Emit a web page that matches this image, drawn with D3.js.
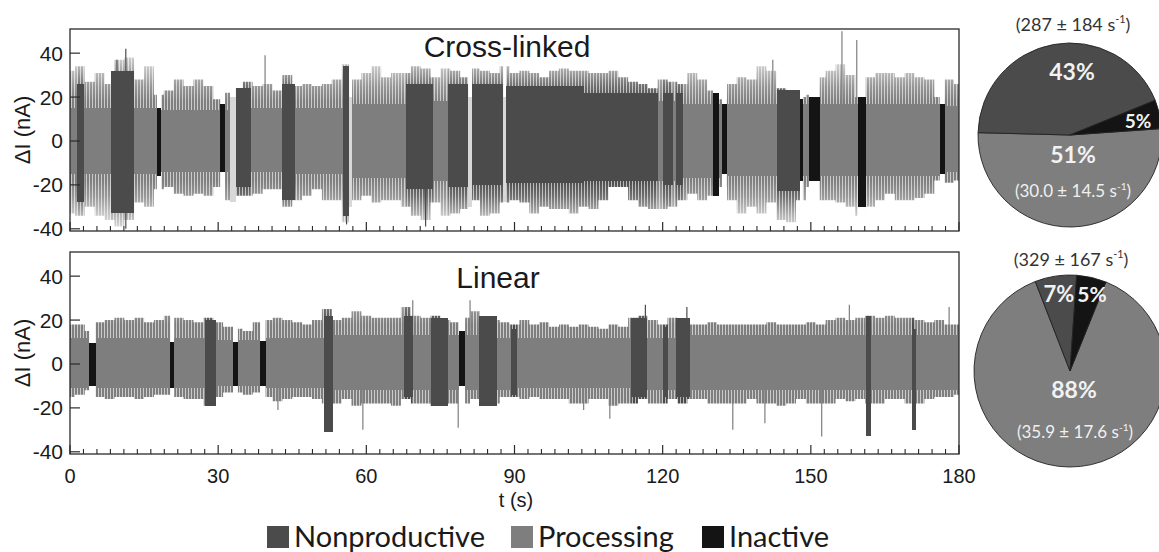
<!DOCTYPE html>
<html>
<head>
<meta charset="utf-8">
<script src="https://cdn.jsdelivr.net/npm/d3@7"></script>
<style>
  body { margin: 0; background: #fff; }
  svg { display: block; }
  .axis-text { font-family: "Liberation Sans", Arial, sans-serif; fill: #1a1a1a; }
  .pie-text { font-family: Lato, "Open Sans", sans-serif; }
</style>
</head>
<body>
<svg id="chart" width="1159" height="552"></svg>
<script>
// ---- data ----
// segments: [start s, end s, state, solid band top nA, solid band bottom nA]
// P = processing, N = nonproductive, I = inactive, G = unassigned gap
const crossSegments = [
  [0, 1.5, "P", 15, -15], [1.5, 2.9, "N", 26, -28], [2.9, 8.3, "P", 15, -15],
  [8.3, 13.0, "N", 32, -33], [13.0, 17.6, "P", 15, -15], [17.6, 18.5, "I", 15, -16],
  [18.5, 30.4, "P", 14, -14], [30.4, 31.4, "I", 17, -14], [31.4, 32.4, "P", 14, -14],
  [32.4, 33.6, "G", 20, -28], [33.6, 36.6, "N", 24, -21], [36.6, 42.9, "P", 15, -14],
  [42.9, 45.5, "N", 26, -27], [45.5, 55.2, "P", 15, -15], [55.2, 56.5, "N", 34, -34],
  [56.5, 57.1, "G", 20, -30], [57.1, 68.0, "P", 17, -17], [68.0, 73.5, "N", 26, -22],
  [73.5, 76.5, "P", 18, -18], [76.5, 80.6, "N", 26, -21], [80.6, 81.4, "G", 20, -30],
  [81.4, 87.7, "N", 26, -20], [87.7, 88.3, "G", 20, -28], [88.3, 104, "N", 25, -19],
  [104, 119, "N", 22, -18], [119, 120, "P", 18, -18], [120, 122, "N", 22, -20],
  [122, 122.7, "P", 18, -18], [122.7, 124.1, "N", 22, -20], [124.1, 130.2, "P", 17, -17],
  [130.2, 131.4, "I", 22, -25], [131.4, 132, "P", 17, -17], [132, 133, "I", 17, -15],
  [133, 143.1, "P", 17, -16], [143.1, 147.8, "N", 23, -23], [147.8, 148.4, "I", 19, -18],
  [148.4, 149.6, "P", 17, -16], [149.6, 151.8, "I", 20, -18], [151.8, 159.5, "P", 17, -16],
  [159.5, 161.1, "I", 20, -30], [161.1, 176.1, "P", 17, -16], [176.1, 177.1, "I", 17, -15],
  [177.1, 180, "P", 16, -14]
];
const linearSegments = [
  [0, 3.9, "P", 12, -11], [3.9, 5.2, "I", 9.5, -10], [5.2, 20.3, "P", 12, -11],
  [20.3, 21.1, "I", 10, -11], [21.1, 27.3, "P", 12, -11], [27.3, 29.5, "N", 20, -19],
  [29.5, 33, "P", 11, -10], [33, 34, "I", 10, -10], [34, 38.5, "P", 11, -10],
  [38.5, 39.6, "I", 10.5, -10], [39.6, 51.4, "P", 12, -11], [51.4, 53.2, "N", 22, -31],
  [53.2, 67.6, "P", 13, -12], [67.6, 69.4, "N", 22, -15], [69.4, 73.1, "P", 13, -12],
  [73.1, 76.5, "N", 21, -19], [76.5, 78.7, "P", 13, -12], [78.7, 80.0, "I", 15, -10],
  [80.0, 82.8, "P", 13, -12], [82.8, 86.4, "N", 22, -19], [86.4, 89.3, "P", 12, -12],
  [89.3, 90.5, "N", 16, -14], [90.5, 113.6, "P", 12, -11], [113.6, 116.8, "N", 21, -15],
  [116.8, 120, "P", 12, -12], [120, 121.1, "N", 17, -15], [121.1, 122.7, "P", 12, -12],
  [122.7, 125.5, "N", 21, -15], [125.5, 161.1, "P", 13, -12], [161.1, 162.1, "N", 22, -33],
  [162.1, 170.4, "P", 13, -12], [170.4, 171.2, "N", 16, -30], [171.2, 180, "P", 13, -12]
];

// outer reach of the noise, one value every 2 s from 0 to 180 s (nA)
const binStep = 2;
const crossHigh = [
  32, 34, 27, 31, 26, 37, 38, 28, 34, 21,
  23, 28, 25, 28, 25, 19, 22, 24, 27, 25,
  26, 23, 30, 25, 26, 25, 26, 28, 35, 28,
  31, 34, 29, 31, 31, 34, 33, 29, 33, 32,
  29, 33, 32, 31, 34, 31, 32, 31, 29, 32,
  33, 32, 32, 31, 31, 32, 29, 27, 26, 24,
  28, 27, 26, 31, 28, 23, 19, 26, 29, 28,
  34, 32, 24, 23, 20, 21, 29, 32, 35, 30,
  20, 29, 31, 31, 29, 31, 29, 28, 20, 28,
  26
];
const crossLow = [
  -33, -34, -30, -34, -36, -39, -36, -28, -30, -22,
  -21, -24, -25, -24, -25, -21, -27, -25, -25, -24,
  -22, -22, -30, -27, -25, -22, -27, -27, -37, -27,
  -25, -28, -27, -27, -30, -34, -36, -28, -34, -33,
  -31, -27, -34, -33, -28, -27, -28, -33, -30, -31,
  -31, -33, -30, -31, -27, -21, -21, -27, -30, -31,
  -31, -30, -27, -24, -27, -25, -21, -27, -33, -30,
  -33, -28, -36, -37, -27, -21, -27, -27, -28, -30,
  -34, -30, -27, -24, -27, -27, -26, -24, -18, -19,
  -18
];
const linearHigh = [
  18, 18, 15, 19, 20, 21, 20, 21, 19, 20,
  22, 21, 20, 19, 21, 19, 17, 16, 15, 19,
  20, 21, 20, 19, 18, 20, 25, 20, 21, 24,
  22, 21, 21, 21, 26, 22, 21, 22, 20, 19,
  21, 24, 21, 20, 19, 18, 20, 18, 19, 17,
  18, 17, 18, 17, 16, 18, 17, 21, 22, 20,
  18, 21, 20, 18, 18, 19, 18, 18, 18, 18,
  18, 19, 18, 18, 18, 19, 18, 20, 21, 20,
  21, 22, 21, 22, 21, 21, 20, 19, 20, 18,
  18
];
const linearLow = [
  -15, -14, -12, -15, -16, -15, -15, -16, -15, -14,
  -14, -15, -16, -16, -19, -15, -13, -13, -14, -13,
  -15, -17, -16, -15, -15, -16, -18, -18, -16, -19,
  -18, -18, -18, -19, -16, -18, -18, -19, -18, -18,
  -18, -16, -19, -18, -15, -15, -16, -15, -16, -16,
  -16, -18, -18, -16, -16, -19, -18, -18, -16, -18,
  -18, -16, -18, -16, -16, -18, -18, -18, -18, -16,
  -18, -18, -19, -18, -16, -18, -18, -18, -16, -17,
  -16, -18, -18, -16, -16, -18, -18, -16, -15, -15,
  -14
];

// isolated spikes: [time s, tip nA]
const crossSpikes = [
  [9.5, 37], [11.3, 42], [39.5, 39], [142.3, 37], [156.3, 50], [159.3, 46],
  [11.3, -40], [56, -38], [72, -39]
];
const linearSpikes = [
  [42.1, -21], [59.3, -30], [78.6, -29], [104, -21], [109.3, -25], [134.2, -30],
  [140.7, -27], [152.2, -33], [69.4, 29], [81, 29], [116.5, 27], [124.9, 26],
  [157.8, 27], [178, 26]
];

// pie charts
const crossPie = [
  {state: "P", value: 51}, {state: "N", value: 43}, {state: "I", value: 5}
];
const linearPie = [
  {state: "P", value: 88}, {state: "N", value: 7}, {state: "I", value: 5}
];

const xMajorTicks = [0, 30, 60, 90, 120, 150, 180];
const yTicks = [40, 20, 0, -20, -40];
const legendItems = [
  {state: "N", label: "Nonproductive"},
  {state: "P", label: "Processing"},
  {state: "I", label: "Inactive"}
];

// ---- drawing ----
const colors = {N: "#4b4b4b", P: "#7e7e7e", I: "#141414", G: "#d8d8d8"};

const svg = d3.select("#chart");
const defs = svg.append("defs");

const x = d3.scaleLinear().domain([0, 180]).range([70, 959]);

// hatched fill for the sparse noise fringe
["N", "P"].forEach(s => {
  const pat = defs.append("pattern")
    .attr("id", `fringe-${s}`)
    .attr("patternUnits", "userSpaceOnUse")
    .attr("width", 3)
    .attr("height", 4);
  pat.append("rect")
    .attr("width", 2).attr("height", 4)
    .attr("fill", colors[s]);
  pat.append("rect")
    .attr("x", 2).attr("width", 1).attr("height", 4)
    .attr("fill", colors[s]).attr("opacity", 0.4);
});

const panels = [
  {key: "cross", top: 29, bottom: 231, segments: crossSegments, high: crossHigh,
   low: crossLow, spikes: crossSpikes, title: "Cross-linked", titleX: 507, titleY: 57},
  {key: "linear", top: 252, bottom: 454, segments: linearSegments, high: linearHigh,
   low: linearLow, spikes: linearSpikes, title: "Linear", titleX: 498, titleY: 288}
];

panels.forEach((p, pi) => {
  const y = d3.scaleLinear().domain([-41, 51]).range([p.bottom, p.top]);
  const g = svg.append("g");

  const stateAt = t => {
    const seg = p.segments.find(d => t >= d[0] && t < d[1]) || p.segments[p.segments.length - 1];
    return seg;
  };

  // fringe gets thinner away from the baseline
  const grad = defs.append("linearGradient")
    .attr("id", `fade-${p.key}`)
    .attr("gradientUnits", "userSpaceOnUse")
    .attr("x1", 0).attr("x2", 0)
    .attr("y1", y(40)).attr("y2", y(-40));
  [[0, 0.2], [0.0875, 0.45], [0.1875, 0.8], [0.275, 1], [0.725, 1], [0.8125, 0.8], [0.9125, 0.45], [1, 0.2]]
    .forEach(([o, a]) => {
      grad.append("stop").attr("offset", o).attr("stop-color", "#fff").attr("stop-opacity", a);
    });
  const mask = defs.append("mask")
    .attr("id", `mask-${p.key}`)
    .attr("maskUnits", "userSpaceOnUse")
    .attr("x", 70).attr("y", p.top)
    .attr("width", 889).attr("height", p.bottom - p.top);
  mask.append("rect")
    .attr("x", 70).attr("y", p.top)
    .attr("width", 889).attr("height", p.bottom - p.top)
    .attr("fill", `url(#fade-${p.key})`);

  const fringe = g.append("g").attr("mask", `url(#mask-${p.key})`);

  // clip per state: union of that state's segments
  ["N", "P"].forEach(s => {
    const cp = defs.append("clipPath").attr("id", `clip-${p.key}-${s}`);
    cp.selectAll("rect")
      .data(p.segments.filter(d => d[2] === s))
      .join("rect")
        .attr("x", d => x(d[0]))
        .attr("width", d => x(d[1]) - x(d[0]))
        .attr("y", p.top)
        .attr("height", p.bottom - p.top);

    const area = d3.area()
      .curve(d3.curveStep)
      .x((d, i) => x(i * binStep))
      .y0((d, i) => y(p.low[i]))
      .y1(d => y(d));

    fringe.append("path")
      .datum(p.high)
      .attr("d", area)
      .attr("fill", `url(#fringe-${s})`)
      .attr("clip-path", `url(#clip-${p.key}-${s})`);
  });

  // spikes
  g.selectAll(".spike")
    .data(p.spikes)
    .join("line")
      .attr("class", "spike")
      .attr("x1", d => x(d[0]))
      .attr("x2", d => x(d[0]))
      .attr("y1", y(0))
      .attr("y2", d => y(d[1]))
      .attr("stroke", d => colors[stateAt(d[0])[2]])
      .attr("stroke-width", 1.2);

  // dense band of each segment
  g.selectAll(".core")
    .data(p.segments)
    .join("rect")
      .attr("class", "core")
      .attr("x", d => x(d[0]))
      .attr("width", d => x(d[1]) - x(d[0]))
      .attr("y", d => y(d[3]))
      .attr("height", d => y(d[4]) - y(d[3]))
      .attr("fill", d => colors[d[2]])
      .attr("shape-rendering", "crispEdges");

  // frame
  g.append("rect")
    .attr("x", 70).attr("y", p.top)
    .attr("width", 959 - 70).attr("height", p.bottom - p.top)
    .attr("fill", "none")
    .attr("stroke", "#2a2a2a")
    .attr("stroke-width", 1.3);

  // y ticks (inward) and labels
  g.selectAll(".ytick")
    .data(yTicks)
    .join("line")
      .attr("x1", 70).attr("x2", 80)
      .attr("y1", d => y(d)).attr("y2", d => y(d))
      .attr("stroke", "#2a2a2a").attr("stroke-width", 1.2);
  g.selectAll(".ylabel")
    .data(yTicks)
    .join("text")
      .attr("class", "axis-text")
      .attr("x", 63)
      .attr("y", d => y(d) + 7.5)
      .attr("text-anchor", "end")
      .attr("font-size", 21)
      .text(d => d);

  // x ticks: majors every 30 s, 11 minor steps between
  const minor = [];
  for (let i = 0; i < xMajorTicks.length - 1; i++) {
    const a = xMajorTicks[i], b = xMajorTicks[i + 1];
    for (let k = 1; k < 11; k++) minor.push(a + (b - a) * k / 11);
  }
  g.selectAll(".xminor")
    .data(minor)
    .join("line")
      .attr("x1", d => x(d)).attr("x2", d => x(d))
      .attr("y1", p.bottom).attr("y2", p.bottom - 5)
      .attr("stroke", "#2a2a2a").attr("stroke-width", 1.1);
  g.selectAll(".xmajor")
    .data(xMajorTicks)
    .join("line")
      .attr("x1", d => x(d)).attr("x2", d => x(d))
      .attr("y1", p.bottom).attr("y2", p.bottom - 9)
      .attr("stroke", "#2a2a2a").attr("stroke-width", 1.2);

  if (pi === 1) {
    g.selectAll(".xlabel")
      .data(xMajorTicks)
      .join("text")
        .attr("class", "axis-text")
        .attr("x", d => x(d))
        .attr("y", 483)
        .attr("text-anchor", "middle")
        .attr("font-size", 20)
        .text(d => d);
    g.append("text")
      .attr("class", "axis-text")
      .attr("x", 516).attr("y", 507)
      .attr("text-anchor", "middle")
      .attr("font-size", 20)
      .text("t (s)");
  }

  // y axis title
  const midY = (p.top + p.bottom) / 2;
  g.append("text")
    .attr("class", "axis-text")
    .attr("transform", `translate(30,${midY}) rotate(-90)`)
    .attr("text-anchor", "middle")
    .attr("font-size", 22)
    .text("ΔI (nA)");

  // panel title
  g.append("text")
    .attr("class", "axis-text")
    .attr("x", p.titleX).attr("y", p.titleY)
    .attr("text-anchor", "middle")
    .attr("font-size", 30)
    .text(p.title);
});

// ---- pies ----
function rateText(sel, parts, size) {
  sel.append("tspan").text(parts[0]);
  sel.append("tspan").attr("font-size", size * 0.6).attr("dy", -size * 0.42).text("-1");
  sel.append("tspan").attr("dy", size * 0.42).text(")");
}

function drawPie(data, cx, cy, r, startDeg) {
  const pie = d3.pie()
    .sort(null)
    .value(d => d.value)
    .startAngle(startDeg * Math.PI / 180)
    .endAngle(startDeg * Math.PI / 180 + 2 * Math.PI);
  const arc = d3.arc().innerRadius(0).outerRadius(r);
  const g = svg.append("g").attr("transform", `translate(${cx},${cy})`);
  g.selectAll("path")
    .data(pie(data))
    .join("path")
      .attr("d", arc)
      .attr("fill", d => colors[d.data.state])
      .attr("stroke", "#222")
      .attr("stroke-width", 0.9);
  return g;
}

const pie1 = drawPie(crossPie, 1070, 135, 92, 86);
const pie2 = drawPie(linearPie, 1070, 371, 96, 22);

const pieLabel = (g, txt, dx, dy, size, weight, fill) =>
  g.append("text")
    .attr("class", "pie-text")
    .attr("x", dx).attr("y", dy)
    .attr("text-anchor", "middle")
    .attr("font-size", size)
    .attr("font-weight", weight)
    .attr("fill", fill)
    .text(txt);

pieLabel(pie1, `${crossPie[1].value}%`, 2, -55, 23, 700, "#f2f2f2");
pieLabel(pie1, `${crossPie[2].value}%`, 68, -7, 19, 700, "#f2f2f2");
pieLabel(pie1, `${crossPie[0].value}%`, 3, 28, 23, 700, "#f2f2f2");
rateText(pieLabel(pie1, "", 3, 62, 17, 400, "#f0f0f0"), ["(30.0 ± 14.5 s"], 17);
rateText(pieLabel(pie1, "", 3, -104, 18, 400, "#333"), ["(287 ± 184 s"], 18);

pieLabel(pie2, `${linearPie[1].value}%`, -11, -69, 22, 700, "#f2f2f2");
pieLabel(pie2, `${linearPie[2].value}%`, 22, -69, 21, 700, "#f2f2f2");
pieLabel(pie2, `${linearPie[0].value}%`, 4, 27, 23, 700, "#f2f2f2");
rateText(pieLabel(pie2, "", 5, 67, 17, 400, "#f0f0f0"), ["(35.9 ± 17.6 s"], 17);
rateText(pieLabel(pie2, "", 1, -105, 18, 400, "#333"), ["(329 ± 167 s"], 18);

// ---- legend ----
const legendX = [267, 511, 702];
const legend = svg.append("g");
legendItems.forEach((d, i) => {
  legend.append("rect")
    .attr("x", legendX[i]).attr("y", 526)
    .attr("width", 22).attr("height", 22)
    .attr("fill", colors[d.state]);
  legend.append("text")
    .attr("class", "pie-text")
    .attr("x", legendX[i] + 27).attr("y", 547)
    .attr("font-size", 29)
    .attr("fill", "#1a1a1a")
    .text(d.label);
});
</script>
</body>
</html>
